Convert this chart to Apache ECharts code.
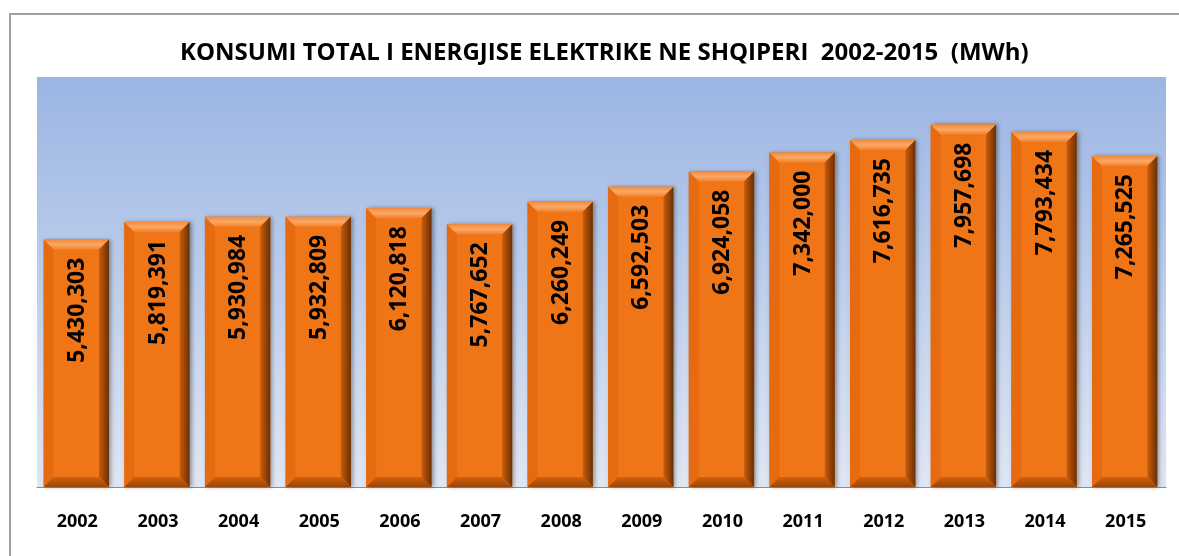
<!DOCTYPE html>
<html>
<head>
<meta charset="utf-8">
<script src="https://cdn.jsdelivr.net/npm/echarts@6/dist/echarts.min.js"></script>
<style>
  html, body { margin: 0; padding: 0; background: #fff; }
  #chart { width: 1179px; height: 556px; }
</style>
</head>
<body>
<div id="chart"></div>
<script>
const years = ['2002', '2003', '2004', '2005', '2006', '2007', '2008', '2009', '2010', '2011', '2012', '2013', '2014', '2015']
const consumption = [5430303, 5819391, 5930984, 5932809, 6120818, 5767652, 6260249, 6592503, 6924058, 7342000, 7616735, 7957698, 7793434, 7265525]

const chart = echarts.init(document.getElementById('chart'))

function fmt(v) {
  return v.toString().replace(/\B(?=(\d{3})+(?!\d))/g, ',')
}

// bevelled bar like the excel one
function renderBar(params, api) {
  const topPt = api.coord([api.value(0), api.value(1)])
  const basePt = api.coord([api.value(0), 0])
  const band = api.size([1, 0])[0]
  const w = band * 0.81
  const l = topPt[0] - w / 2 - 1
  const r = l + w
  const t = topPt[1]
  const b = basePt[1]
  const bv = 10
  return {
    type: 'group',
    children: [
      {
        type: 'rect',
        shape: { x: l, y: t, width: w, height: b - t },
        style: { fill: '#f07516', shadowBlur: 4, shadowOffsetX: 2, shadowOffsetY: 0, shadowColor: 'rgba(0,0,0,0.35)' }
      },
      {
        type: 'polygon',
        shape: { points: [[l, t], [l + bv, t + bv], [l + bv, b - bv], [l, b]] },
        style: { fill: '#e56a10' }
      },
      {
        type: 'polygon',
        shape: { points: [[l, t], [r, t], [r - bv, t + bv], [l + bv, t + bv]] },
        style: {
          fill: new echarts.graphic.LinearGradient(0, 0, 0, 1, [
            { offset: 0, color: '#f58a3a' },
            { offset: 0.5, color: '#faa867' },
            { offset: 1, color: '#f3822a' }
          ])
        }
      },
      {
        type: 'polygon',
        shape: { points: [[r, t], [r, b], [r - bv, b - bv], [r - bv, t + bv]] },
        style: {
          fill: new echarts.graphic.LinearGradient(0, 0, 1, 0, [
            { offset: 0, color: '#c85c0c' },
            { offset: 1, color: '#6a3004' }
          ])
        }
      },
      {
        type: 'polygon',
        shape: { points: [[l, b], [r, b], [r - bv, b - bv], [l + bv, b - bv]] },
        style: {
          fill: new echarts.graphic.LinearGradient(0, 0, 0, 1, [
            { offset: 0, color: '#d0620e' },
            { offset: 1, color: '#9a4608' }
          ])
        }
      },
      {
        type: 'text',
        x: (l + r) / 2 + 1,
        y: t + 18,
        rotation: Math.PI / 2,
        style: {
          text: fmt(api.value(1)),
          align: 'right',
          verticalAlign: 'middle',
          fill: '#000',
          font: 'bold 23px "Open Sans", sans-serif'
        }
      }
    ]
  }
}

chart.setOption({
  animation: false,
  title: {
    text: 'KONSUMI TOTAL I ENERGJISE ELEKTRIKE NE SHQIPERI  2002-2015  (MWh)',
    left: 175,
    top: 36,
    textStyle: { fontFamily: 'Open Sans', fontWeight: 'bold', fontSize: 24, color: '#000' }
  },
  graphic: [
    { type: 'line', shape: { x1: 9, y1: 14, x2: 1179, y2: 14 }, style: { stroke: '#a0a0a0', lineWidth: 2 } },
    { type: 'line', shape: { x1: 10, y1: 13, x2: 10, y2: 556 }, style: { stroke: '#a0a0a0', lineWidth: 2 } }
  ],
  grid: {
    left: 37,
    right: 13,
    top: 77,
    bottom: 69,
    show: true,
    borderWidth: 0,
    backgroundColor: new echarts.graphic.LinearGradient(0, 0, 0, 1, [
      { offset: 0, color: '#9bb5e3' },
      { offset: 1, color: '#dfe6f3' }
    ])
  },
  xAxis: {
    type: 'category',
    data: years,
    axisLine: { lineStyle: { color: '#8c8c8c', width: 1 } },
    axisTick: { length: 6, lineStyle: { color: '#8c8c8c' } },
    axisLabel: { color: '#000', fontFamily: 'Open Sans', fontWeight: 'bold', fontSize: 18, margin: 26 }
  },
  yAxis: {
    type: 'value',
    min: 0,
    max: 9000000,
    show: false,
    splitLine: { show: false }
  },
  series: [
    {
      type: 'custom',
      renderItem: renderBar,
      encode: { x: 0, y: 1 },
      data: years.map((y, i) => [i, consumption[i]])
    }
  ]
})
</script>
</body>
</html>
